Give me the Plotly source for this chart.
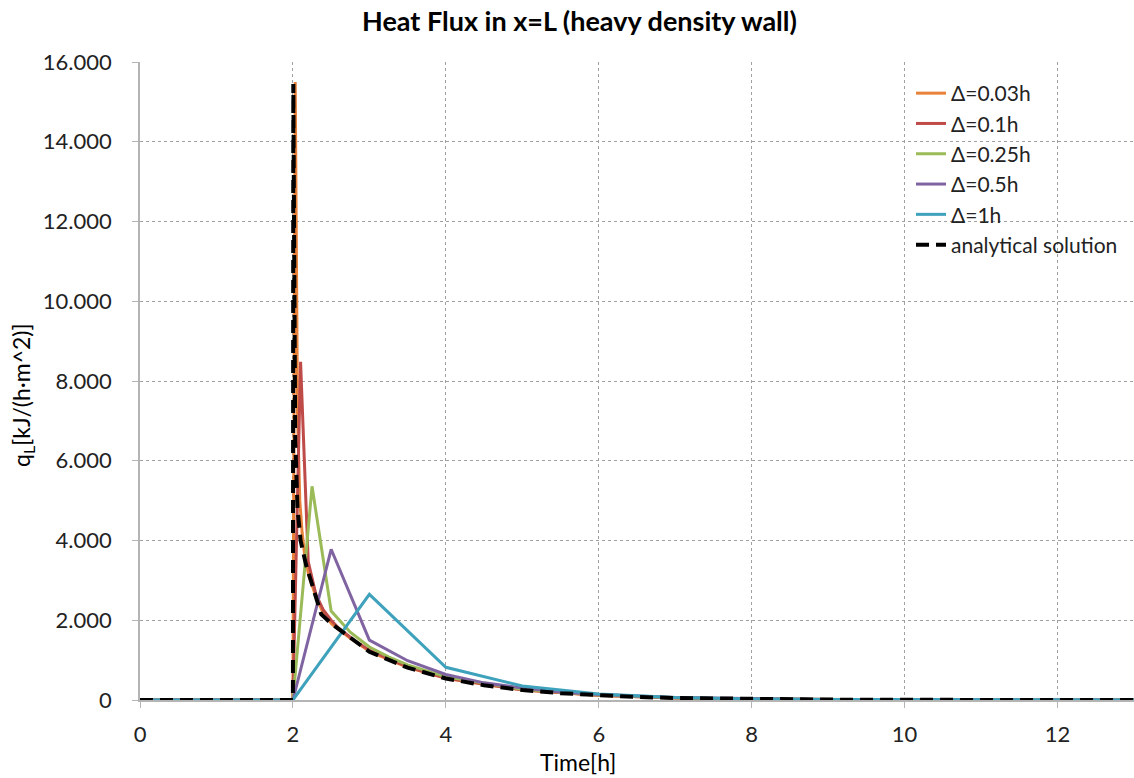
import plotly.graph_objects as go

# Δ=0.03h
t_003 = [0, 2.0, 2.03, 2.06, 2.09, 2.12, 2.15, 2.21, 2.3, 2.39, 2.51, 2.75, 3.02, 3.5, 4.01, 5.0, 6.02, 7.01, 8.0, 9.02, 10.01, 11.0, 12.02, 13.0]
q_003 = [0, 0, 15500, 7200, 5000, 4200, 3700, 3100, 2600, 2200, 1900, 1550, 1200, 820, 540, 250, 115, 50, 22, 10, 4, 2, 1, 0]
# Δ=0.1h
t_01 = [0, 2.0, 2.1, 2.2, 2.3, 2.4, 2.5, 2.6, 2.8, 3.0, 3.5, 4.0, 5.0, 6.0, 7.0, 8.0, 9.0, 10.0, 11.0, 12.0, 13.0]
q_01 = [0, 0, 8480, 3470, 2650, 2250, 2000, 1800, 1500, 1250, 830, 550, 255, 118, 52, 23, 10, 4, 2, 1, 0]
# Δ=0.25h
t_025 = [0, 2.0, 2.25, 2.5, 2.75, 3.0, 3.25, 3.5, 4.0, 5.0, 6.0, 7.0, 8.0, 9.0, 10.0, 11.0, 12.0, 13.0]
q_025 = [0, 0, 5360, 2230, 1700, 1330, 1080, 880, 580, 270, 125, 55, 25, 11, 5, 2, 1, 0]
# Δ=0.5h
t_05 = [0, 2.0, 2.5, 3.0, 3.5, 4.0, 4.5, 5.0, 5.5, 6.0, 7.0, 8.0, 9.0, 10.0, 11.0, 12.0, 13.0]
q_05 = [0, 0, 3780, 1500, 985, 640, 430, 300, 200, 135, 62, 28, 12, 5, 2, 1, 0]
# Δ=1h
t_1 = [0, 1.0, 2.0, 3.0, 4.0, 5.0, 6.0, 7.0, 8.0, 9.0, 10.0, 11.0, 12.0, 13.0]
q_1 = [0, 0, 0, 2650, 820, 350, 150, 65, 28, 12, 5, 2, 1, 0]
# analytical solution
t_an = [0, 2.0, 2.005, 2.015, 2.03, 2.06, 2.1, 2.17, 2.25, 2.37, 2.5, 2.75, 3.0, 3.5, 4.0, 4.5, 5.0, 5.5, 6.0, 6.5, 7.0, 8.0, 9.0, 10.0, 11.0, 12.0, 13.0]
q_an = [0, 0, 15450, 9800, 6500, 4800, 4000, 3400, 2900, 2150, 1920, 1550, 1210, 810, 540, 370, 250, 170, 115, 75, 50, 22, 10, 4, 2, 1, 0]

x_ticks = [0, 2, 4, 6, 8, 10, 12]
y_ticks = [0, 2000, 4000, 6000, 8000, 10000, 12000, 14000, 16000]

series = [
    ("Δ=0.03h", t_003, q_003, "#E8823A", "solid", 3),
    ("Δ=0.1h", t_01, q_01, "#BE4B48", "solid", 3),
    ("Δ=0.25h", t_025, q_025, "#9BBB59", "solid", 3),
    ("Δ=0.5h", t_05, q_05, "#8064A2", "solid", 3),
    ("Δ=1h", t_1, q_1, "#3FA2BC", "solid", 3),
    ("analytical solution", t_an, q_an, "#000000", "13px,7px", 4),
]

fig = go.Figure()
for i, (name, t, q, c, d, w) in enumerate(series):
    fig.add_trace(go.Scatter(x=t, y=q, mode="lines", name=name, legendgroup=f"g{i}",
                             line=dict(color=c, width=w, dash=d)))

font = "Lato, 'Open Sans', sans-serif"
pw, ph = 1134 - 140 - 0, 778 - 62 - 78
axis_common = dict(showgrid=True, gridcolor="#A0A0A0", griddash="3px,3px", gridwidth=1,
                   showline=True, linecolor="#B4B4B4", linewidth=1.5, ticks="outside",
                   ticklen=6, tickcolor="#B4B4B4", zeroline=False,
                   tickfont=dict(size=22, color="#222"))
fig.update_layout(
    width=1134, height=778,
    margin=dict(l=140, r=0, t=62, b=78),
    paper_bgcolor="white", plot_bgcolor="white",
    separators=",.",
    font=dict(family=font, size=22, color="#222"),
    title=dict(text="<b>Heat Flux in x=L (heavy density wall)</b>", x=0.511, xref="container",
               y=0.972, yref="container", xanchor="center", yanchor="middle",
               font=dict(size=27, color="#000", family=font)),
    showlegend=True,
    legend=dict(x=(911 - 140) / pw, y=(700 - 73) / ph, xanchor="left", yanchor="top",
                bgcolor="rgba(255,255,255,0)", font=dict(size=21, color="#222"),
                tracegroupgap=0),
    xaxis=dict(range=[0, 13], tickvals=x_ticks, ticklabelstandoff=8, **axis_common),
    yaxis=dict(range=[0, 16000], tickvals=y_ticks, tickformat=",.0f", ticklabelstandoff=16,
               **axis_common),
    annotations=[
        dict(text="Time[h]", xref="paper", yref="paper", x=(578 - 140) / pw, y=(700 - 762) / ph,
             xanchor="center", yanchor="middle", showarrow=False,
             font=dict(size=23, color="#000")),
        dict(text="q<sub>L</sub>[kJ/(h·m^2)]", xref="paper", yref="paper",
             x=(22 - 140) / pw, y=(700 - 395) / ph, xanchor="center", yanchor="middle",
             showarrow=False, textangle=-90, font=dict(size=23, color="#000")),
    ],
)

fig.write_html("out.html")
